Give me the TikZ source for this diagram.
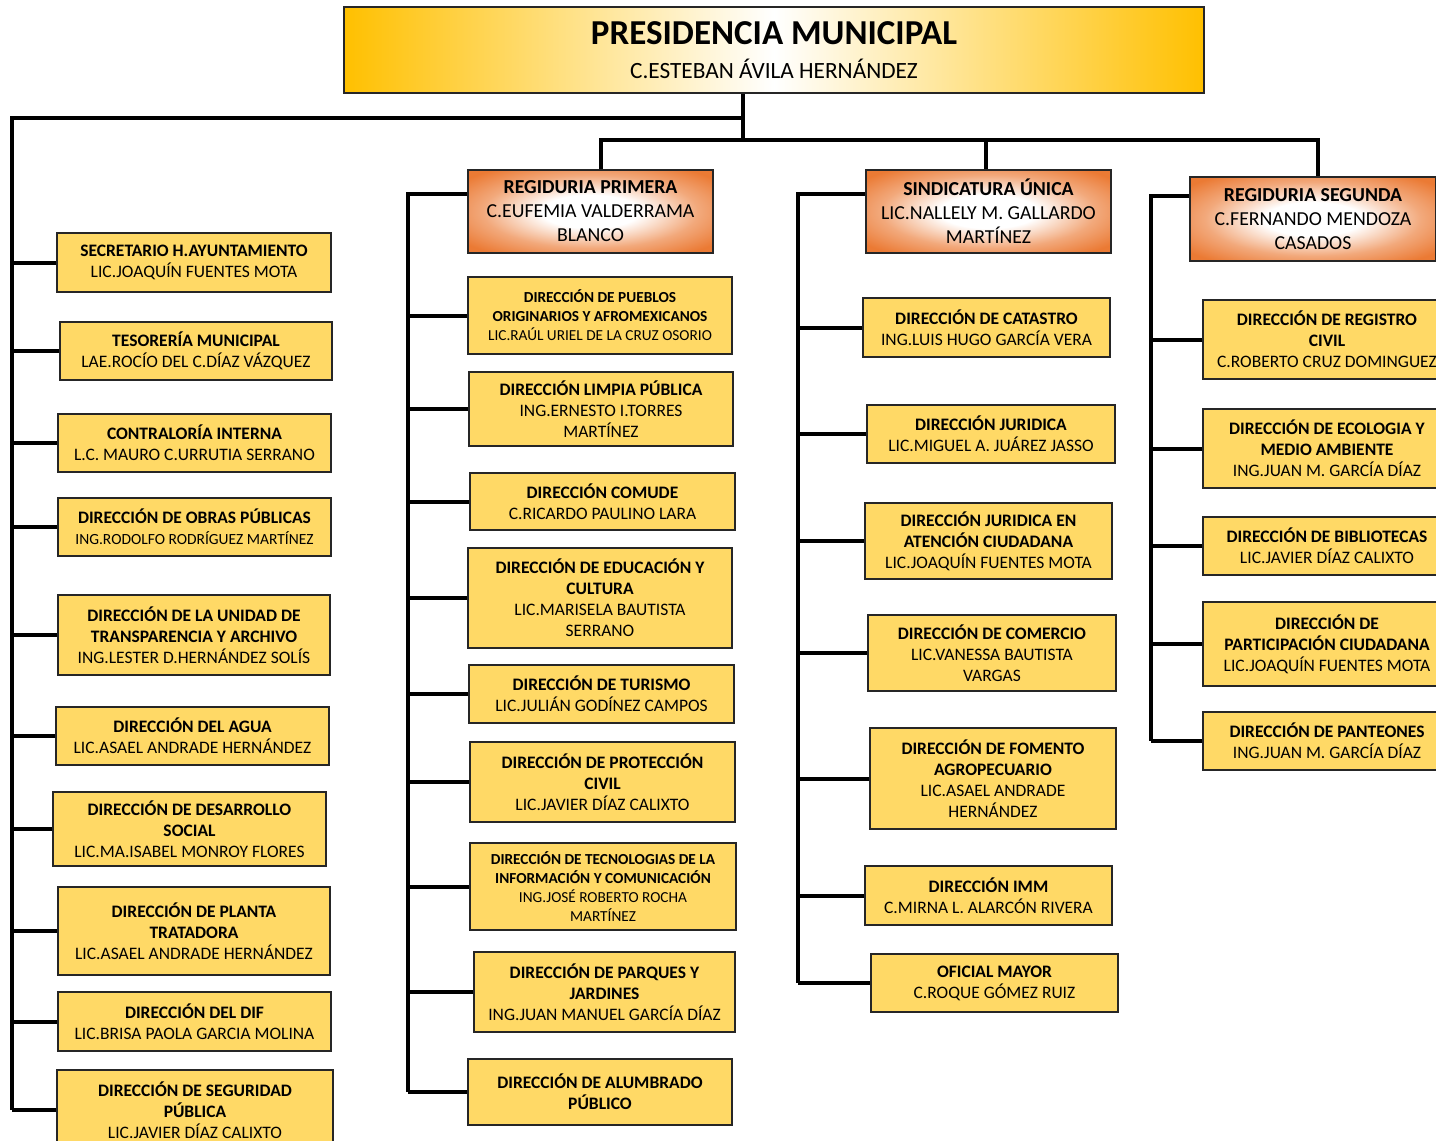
\documentclass[tikz,border=0pt]{standalone}
\usepackage{fontspec}
\setmainfont{Carlito}
\definecolor{amarillo}{HTML}{FFD966}
\definecolor{naranja}{HTML}{EB7A34}
\definecolor{oro}{HTML}{FFC000}
\pgfdeclareradialshading{jefeshade}{\pgfpoint{0bp}{0bp}}{color(0bp)=(white); color(10bp)=(white); color(22bp)=(naranja!65!white); color(32bp)=(naranja); color(50bp)=(naranja)}

\begin{document}
\begin{tikzpicture}[x=1pt, y=-1pt,
    caja/.style={draw=black!85, line width=1.5pt, fill=amarillo, align=center, inner sep=2pt,
      minimum width=264pt, font=\fontsize{17.5}{21}\selectfont},
    jefe/.style={draw=black!85, line width=1.5pt, shade, shading=jefeshade, align=center,
      minimum width=245pt, minimum height=83pt, font=\fontsize{19.8}{24}\selectfont},
    chica/.style={font=\fontsize{15.3}{19}\selectfont},
    linea/.style={line width=4pt}]
  \useasboundingbox (0,0) rectangle (1436,1141);
  \clip (0,0) rectangle (1436,1141);

  \node[draw=black!85, line width=1.5pt, left color=oro, right color=oro, middle color=white,
    minimum width=860pt, minimum height=86pt, align=center, font=\fontsize{23.3}{34}\selectfont] (pres) at (774,50)
    {{\fontsize{35}{34}\selectfont\bfseries PRESIDENCIA MUNICIPAL}\\C.ESTEBAN ÁVILA HERNÁNDEZ};

  \node[caja, minimum width=274pt, minimum height=59pt] (sec) at (194,262.5) {\textbf{SECRETARIO H.AYUNTAMIENTO}\\LIC.JOAQUÍN FUENTES MOTA};
  \node[caja, minimum width=272pt, minimum height=58pt] (tes) at (196,351) {\textbf{TESORERÍA MUNICIPAL}\\LAE.ROCÍO DEL C.DÍAZ VÁZQUEZ};
  \node[caja, minimum width=273pt, minimum height=58pt] (con) at (194.5,443) {\textbf{CONTRALORÍA INTERNA}\\L.C. MAURO C.URRUTIA SERRANO};
  \node[caja, minimum width=273pt, minimum height=58pt] (obr) at (194.5,527) {\textbf{DIRECCIÓN DE OBRAS PÚBLICAS}\\{\fontsize{15.5}{21}\selectfont ING.RODOLFO RODRÍGUEZ MARTÍNEZ}};
  \node[caja, minimum width=272pt, minimum height=80pt] (tra) at (194,635) {\textbf{DIRECCIÓN DE LA UNIDAD DE}\\\textbf{TRANSPARENCIA Y ARCHIVO}\\ING.LESTER D.HERNÁNDEZ SOLÍS};
  \node[caja, minimum width=273pt, minimum height=58pt] (agu) at (192.5,736) {\textbf{DIRECCIÓN DEL AGUA}\\LIC.ASAEL ANDRADE HERNÁNDEZ};
  \node[caja, minimum width=273pt, minimum height=74pt] (des) at (189.5,829) {\textbf{DIRECCIÓN DE DESARROLLO}\\\textbf{SOCIAL}\\LIC.MA.ISABEL MONROY FLORES};
  \node[caja, minimum width=272pt, minimum height=88pt] (pla) at (194,931) {\textbf{DIRECCIÓN DE PLANTA}\\\textbf{TRATADORA}\\LIC.ASAEL ANDRADE HERNÁNDEZ};
  \node[caja, minimum width=273pt, minimum height=59pt] (dif) at (194.5,1021.5) {\textbf{DIRECCIÓN DEL DIF}\\LIC.BRISA PAOLA GARCIA MOLINA};
  \node[caja, minimum width=276pt, minimum height=80pt] (seg) at (195,1110) {\textbf{DIRECCIÓN DE SEGURIDAD}\\\textbf{PÚBLICA}\\LIC.JAVIER DÍAZ CALIXTO};

  \node[jefe] (regp) at (590.5,211.5) {\textbf{REGIDURIA PRIMERA}\\C.EUFEMIA VALDERRAMA\\BLANCO};
  \node[caja, chica, minimum height=77pt] (pue) at (600,315.5) {\textbf{DIRECCIÓN DE PUEBLOS}\\\textbf{ORIGINARIOS Y AFROMEXICANOS}\\LIC.RAÚL URIEL DE LA CRUZ OSORIO};
  \node[caja, minimum height=74pt] (lim) at (601,409) {\textbf{DIRECCIÓN LIMPIA PÚBLICA}\\ING.ERNESTO I.TORRES\\MARTÍNEZ};
  \node[caja, minimum width=265pt, minimum height=57pt] (cmd) at (602.5,501.5) {\textbf{DIRECCIÓN COMUDE}\\C.RICARDO PAULINO LARA};
  \node[caja, minimum height=100pt] (edu) at (600,598) {\textbf{DIRECCIÓN DE EDUCACIÓN Y}\\\textbf{CULTURA}\\LIC.MARISELA BAUTISTA\\SERRANO};
  \node[caja, minimum width=265pt, minimum height=58pt] (tur) at (601.5,694) {\textbf{DIRECCIÓN DE TURISMO}\\LIC.JULIÁN GODÍNEZ CAMPOS};
  \node[caja, minimum width=265pt, minimum height=80pt] (pci) at (602.5,782) {\textbf{DIRECCIÓN DE PROTECCIÓN}\\\textbf{CIVIL}\\LIC.JAVIER DÍAZ CALIXTO};
  \node[caja, chica, minimum width=266pt, minimum height=87pt] (tic) at (603,886.5) {\textbf{DIRECCIÓN DE TECNOLOGIAS DE LA}\\\textbf{INFORMACIÓN Y COMUNICACIÓN}\\ING.JOSÉ ROBERTO ROCHA\\MARTÍNEZ};
  \node[caja, minimum width=261pt, minimum height=80pt] (par) at (604.5,992) {\textbf{DIRECCIÓN DE PARQUES Y}\\\textbf{JARDINES}\\ING.JUAN MANUEL GARCÍA DÍAZ};
  \node[caja, minimum height=66pt] (alu) at (600,1092) {\textbf{DIRECCIÓN DE ALUMBRADO}\\\textbf{PÚBLICO}};

  \node[jefe] (sind) at (988.5,211.5) {\textbf{SINDICATURA ÚNICA}\\LIC.NALLELY M. GALLARDO\\MARTÍNEZ};
  \node[caja, minimum width=247pt, minimum height=59pt] (cat) at (986.5,327.5) {\textbf{DIRECCIÓN DE CATASTRO}\\ING.LUIS HUGO GARCÍA VERA};
  \node[caja, minimum width=248pt, minimum height=58pt] (jur) at (991,434) {\textbf{DIRECCIÓN JURIDICA}\\LIC.MIGUEL A. JUÁREZ JASSO};
  \node[caja, minimum width=247pt, minimum height=76pt] (ate) at (988.5,541) {\textbf{DIRECCIÓN JURIDICA EN}\\\textbf{ATENCIÓN CIUDADANA}\\LIC.JOAQUÍN FUENTES MOTA};
  \node[caja, minimum width=248pt, minimum height=76pt] (com) at (992,653) {\textbf{DIRECCIÓN DE COMERCIO}\\LIC.VANESSA BAUTISTA\\VARGAS};
  \node[caja, minimum width=246pt, minimum height=101pt] (fom) at (993,778.5) {\textbf{DIRECCIÓN DE FOMENTO}\\\textbf{AGROPECUARIO}\\LIC.ASAEL ANDRADE\\HERNÁNDEZ};
  \node[caja, minimum width=247pt, minimum height=59pt] (imm) at (988.5,895.5) {\textbf{DIRECCIÓN IMM}\\C.MIRNA L. ALARCÓN RIVERA};
  \node[caja, minimum width=247pt, minimum height=58pt] (ofi) at (994.5,983) {\textbf{OFICIAL MAYOR}\\C.ROQUE GÓMEZ RUIZ};

  \node[jefe, minimum width=246pt, minimum height=84pt] (regs) at (1313,219) {\textbf{REGIDURIA SEGUNDA}\\C.FERNANDO MENDOZA\\CASADOS};
  \node[caja, minimum width=248pt, minimum height=79pt] (rci) at (1327,339.5) {\textbf{DIRECCIÓN DE REGISTRO}\\\textbf{CIVIL}\\C.ROBERTO CRUZ DOMINGUEZ};
  \node[caja, minimum width=248pt, minimum height=79pt] (eco) at (1327,448.5) {\textbf{DIRECCIÓN DE ECOLOGIA Y}\\\textbf{MEDIO AMBIENTE}\\ING.JUAN M. GARCÍA DÍAZ};
  \node[caja, minimum width=248pt, minimum height=58pt] (bib) at (1327,546) {\textbf{DIRECCIÓN DE BIBLIOTECAS}\\LIC.JAVIER DÍAZ CALIXTO};
  \node[caja, minimum width=248pt, minimum height=84pt] (pac) at (1327,644) {\textbf{DIRECCIÓN DE}\\\textbf{PARTICIPACIÓN CIUDADANA}\\LIC.JOAQUÍN FUENTES MOTA};
  \node[caja, minimum width=248pt, minimum height=58pt] (pan) at (1327,741) {\textbf{DIRECCIÓN DE PANTEONES}\\ING.JUAN M. GARCÍA DÍAZ};

  \coordinate (izq) at (12,118);
  \coordinate (nudo) at (743,140);
  \coordinate (c2) at (408,194);
  \coordinate (c3) at (798,194);
  \coordinate (c4) at (1151,196);

  \draw[linea] (pres.south -| nudo) -- (nudo);
  \draw[linea] (izq -| nudo) -- (izq) -- (izq |- seg.west);
  \draw[linea] ([xshift=10pt]regp.north) -- ([xshift=10pt]regp.north |- nudo) -- ([xshift=5pt]regs.north |- nudo) -- ([xshift=5pt]regs.north);
  \draw[linea] ([xshift=-3pt]sind.north) -- ([xshift=-3pt]sind.north |- nudo);

  \draw[linea] (c2 -| regp.west) -- (c2) -- (c2 |- alu.west);
  \draw[linea] (c3 -| sind.west) -- (c3) -- (c3 |- ofi.west);
  \draw[linea] (c4 -| regs.west) -- (c4) -- (c4 |- pan.west);

  \foreach \n in {sec,tes,con,obr,tra,agu,des,pla,dif,seg}
    \draw[linea] (\n.west) -- (\n.west -| izq);
  \foreach \n in {pue,lim,cmd,edu,tur,pci,tic,par,alu}
    \draw[linea] (\n.west) -- (\n.west -| c2);
  \foreach \n in {cat,jur,ate,com,fom,imm,ofi}
    \draw[linea] (\n.west) -- (\n.west -| c3);
  \foreach \n in {rci,eco,bib,pac,pan}
    \draw[linea] (\n.west) -- (\n.west -| c4);
\end{tikzpicture}
\end{document}
